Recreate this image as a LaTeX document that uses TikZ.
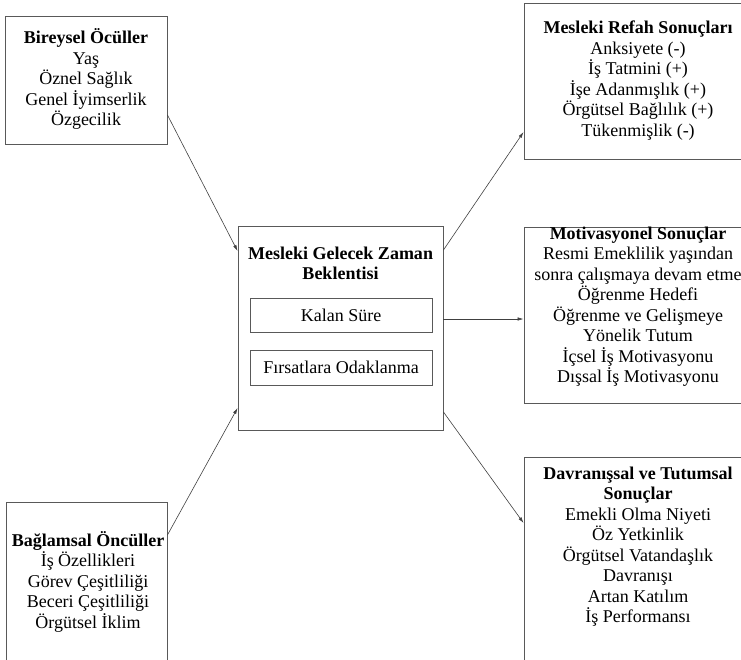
\documentclass[tikz,border=0pt]{standalone}
\usepackage{fontspec}
\setmainfont{Liberation Serif}
\usetikzlibrary{arrows.meta}
\newcommand{\metin}{\fontsize{18}{20.5}\selectfont}

\begin{document}
\begin{tikzpicture}[x=1pt,y=-1pt,
    kutu/.style={draw=black!65,line width=0.9pt,inner sep=0pt},
    yazi/.style={align=center,inner sep=0pt,font=\metin,anchor=base},
    ok/.style={draw=black!75,line width=0.6pt,-{Latex[length=6pt,width=3.5pt]}}]
  \clip (0,0) rectangle (741,659);
  % kutular
  \node[kutu,minimum width=162pt,minimum height=128pt] (bir)    at (86,80)     {};
  \node[kutu,minimum width=161pt,minimum height=188pt] (bag)    at (86.5,596)  {};
  \node[kutu,minimum width=205pt,minimum height=204pt] (mgz)    at (340.5,328) {};
  \node[kutu,minimum width=182pt,minimum height=34pt,font=\metin]  (kalan)  at (341,315)   {Kalan Süre};
  \node[kutu,minimum width=182pt,minimum height=35pt,font=\metin]  (firsat) at (341,367.5) {Fırsatlara Odaklanma};
  \node[kutu,minimum width=228pt,minimum height=156pt] (refah)  at (638,81)    {};
  \node[kutu,minimum width=228pt,minimum height=176pt] (motiv)  at (638,315)   {};
  \node[kutu,minimum width=228pt,minimum height=233pt] (davr)   at (638,573.5) {};
  % yazilar (base = son satir)
  \node[yazi] (birT) at (86,125.5)
    {\textbf{Bireysel Öcüller}\\Yaş\\Öznel Sağlık\\Genel İyimserlik\\Özgecilik};
  \node[yazi] (bagT) at (88,628)
    {\textbf{Bağlamsal Öncüller}\\İş Özellikleri\\Görev Çeşitliliği\\Beceri Çeşitliliği\\Örgütsel İklim};
  \node[yazi] (mgzT) at (340.5,279.5)
    {\textbf{Mesleki Gelecek Zaman}\\\textbf{Beklentisi}};
  \node[yazi] (refahT) at (638,136)
    {\textbf{Mesleki Refah Sonuçları}\\Anksiyete (-)\\İş Tatmini (+)\\İşe Adanmışlık (+)\\Örgütsel Bağlılık (+)\\Tükenmişlik (-)};
  \node[yazi] (motivT) at (638,382.5)
    {\textbf{Motivasyonel Sonuçlar}\\Resmi Emeklilik yaşından\\sonra çalışmaya devam etme\\Öğrenme Hedefi\\Öğrenme ve Gelişmeye\\Yönelik Tutum\\İçsel İş Motivasyonu\\Dışsal İş Motivasyonu};
  \node[yazi] (davrT) at (638,622.5)
    {\textbf{Davranışsal ve Tutumsal}\\\textbf{Sonuçlar}\\Emekli Olma Niyeti\\Öz Yetkinlik\\Örgütsel Vatandaşlık\\Davranışı\\Artan Katılım\\İş Performansı};
  % oklar
  \draw[ok] ([yshift=-35pt]bir.east) -- ([yshift=77pt]mgz.west);
  \draw[ok] ([yshift=61pt]bag.east)  -- ([yshift=-80pt]mgz.west);
  \draw[ok] ([yshift=78pt]mgz.east)  -- ([yshift=-51pt]refah.west);
  \draw[ok] ([yshift=9pt]mgz.east)   -- ([yshift=-4pt]motiv.west);
  \draw[ok] ([yshift=-84pt]mgz.east) -- ([yshift=50.5pt]davr.west);
\end{tikzpicture}
\end{document}
